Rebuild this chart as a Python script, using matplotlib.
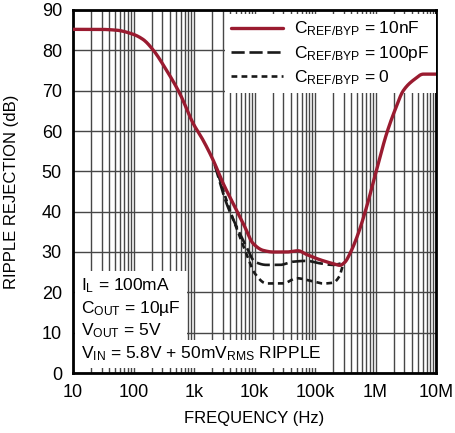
import matplotlib
matplotlib.use("Agg")
import matplotlib.pyplot as plt
from matplotlib.ticker import FixedLocator, NullFormatter
import numpy as np

plt.rcParams['font.family'] = ['Liberation Sans Narrow', 'Liberation Sans', 'DejaVu Sans']
plt.rcParams['mathtext.default'] = 'regular'

# curves (frequency in Hz, rejection in dB)
f_10n = [10, 27.6, 52, 98, 144, 211, 350, 582, 967, 1415, 2070, 3033, 4440, 6500, 9510,
         13900, 20400, 33900, 52700, 72400, 120000, 200000, 258000, 313000, 378000, 519000,
         713000, 1040000, 1530000, 2100000, 2880000, 4220000, 6170000, 10000000]
db_10n = [85.2, 85.2, 85.0, 84.0, 82.7, 80.1, 75.1, 69.3, 61.9, 57.7, 52.8, 47.0, 42.0, 37.1, 32.1,
          30.4, 30.0, 30.0, 30.3, 29.4, 28.1, 27.1, 26.7, 27.5, 29.6, 34.6,
          41.2, 50.3, 59.4, 65.2, 70.0, 72.6, 74.1, 74.1]

f_100p = [2200, 3440, 5040, 7380, 10100, 15800, 26200, 43600, 72600, 120000, 200000, 275000]
db_100p = [51.6, 42.1, 36.3, 31.3, 27.6, 26.8, 26.8, 27.6, 27.8, 27.2, 26.8, 27.2]

f_0 = [2300, 2850, 3910, 5720, 7870, 10100, 15800, 29800, 49600, 82400, 137000, 200000, 251000, 286000]
db_0 = [51.0, 46.6, 40.4, 33.8, 28.4, 24.7, 22.2, 22.2, 23.5, 22.9, 22.2, 22.4, 23.9, 26.5]

xticks = [10, 100, 1e3, 1e4, 1e5, 1e6, 1e7]
xlabels = ['10', '100', '1k', '10k', '100k', '1M', '10M']
yticks = list(range(0, 91, 10))
faded = [4e4, 5e4, 4e5, 5e5]   # grid lines that look washed out in the scan


def pchip(f, db, n=500):
    x = np.log10(np.asarray(f, float))
    y = np.asarray(db, float)
    h = np.diff(x)
    d = np.diff(y) / h
    m = np.zeros_like(y)
    for i in range(1, len(y) - 1):
        if d[i - 1] * d[i] > 0:
            w1 = 2 * h[i] + h[i - 1]
            w2 = h[i] + 2 * h[i - 1]
            m[i] = (w1 + w2) / (w1 / d[i - 1] + w2 / d[i])
    m[0] = d[0]
    m[-1] = d[-1]
    xs = np.linspace(x[0], x[-1], n)
    k = np.clip(np.searchsorted(x, xs) - 1, 0, len(h) - 1)
    t = (xs - x[k]) / h[k]
    h00 = 2 * t**3 - 3 * t**2 + 1
    h10 = t**3 - 2 * t**2 + t
    h01 = -2 * t**3 + 3 * t**2
    h11 = t**3 - t**2
    ys = h00 * y[k] + h10 * h[k] * m[k] + h01 * y[k + 1] + h11 * h[k] * m[k + 1]
    return 10 ** xs, ys


fig = plt.figure(figsize=(4.55, 4.33), dpi=100)
ax = fig.add_axes([73 / 455, 60 / 433, 363 / 455, 363 / 433])

ax.set_xscale('log')
ax.set_xlim(10, 1e7)
ax.set_ylim(0, 90)
ax.xaxis.set_major_locator(FixedLocator(xticks))
ax.set_xticklabels(xlabels)
minors = [s * 10.0**e for e in range(1, 7) for s in range(2, 10)]
ax.xaxis.set_minor_locator(FixedLocator(minors))
ax.xaxis.set_minor_formatter(NullFormatter())
ax.set_yticks(yticks)
ax.grid(True, which='both', color='#474747', linewidth=1.0)
for tick in ax.xaxis.get_minor_ticks():
    if any(abs(tick.get_loc() - v) < 1 for v in faded):
        tick.gridline.set_color('#bdbdbd')
        tick.gridline.set_linewidth(1.6)
ax.tick_params(which='both', length=0, labelsize=13)
ax.tick_params(axis='x', pad=8)
ax.tick_params(axis='y', pad=8)
for s in ax.spines.values():
    s.set_linewidth(2)

x, y = pchip(f_10n, db_10n)
ax.plot(x, y, color='#9a1b30', linewidth=2.4, solid_capstyle='round', zorder=6,
        label='C$_{REF/BYP}$ = 10nF')
x, y = pchip(f_100p, db_100p)
ax.plot(x, y, color='#1a1a1a', linewidth=1.9, dashes=(5.0, 1.8), zorder=4,
        label='C$_{REF/BYP}$ = 100pF')
x, y = pchip(f_0, db_0)
ax.plot(x, y, color='#1a1a1a', linewidth=1.9, dashes=(2.2, 1.6), zorder=4,
        label='C$_{REF/BYP}$ = 0')

leg = ax.legend(loc='upper right', bbox_to_anchor=(1.0, 0.99), fontsize=12.5, frameon=True,
                fancybox=False, edgecolor='none', framealpha=1, borderaxespad=0.0,
                handlelength=3.0, labelspacing=0.3, borderpad=0.35, handletextpad=0.65)
leg.set_zorder(5)

ax.text(0.022, 0.178, 'I$_L$ = 100mA\nC$_{OUT}$ = 10µF\nV$_{OUT}$ = 5V',
        transform=ax.transAxes, fontsize=12.5, va='center', ha='left', linespacing=1.25,
        bbox=dict(facecolor='white', edgecolor='none', boxstyle='square,pad=0.35'), zorder=5)
ax.text(0.022, 0.052, 'V$_{IN}$ = 5.8V + 50mV$_{RMS}$ RIPPLE',
        transform=ax.transAxes, fontsize=12.5, va='center', ha='left',
        bbox=dict(facecolor='white', edgecolor='none', boxstyle='square,pad=0.25'), zorder=5)

ax.set_xlabel('FREQUENCY (Hz)', fontsize=12, labelpad=7)
ax.set_ylabel('RIPPLE REJECTION (dB)', fontsize=12, labelpad=16)

fig.savefig('out.png', dpi=100)
